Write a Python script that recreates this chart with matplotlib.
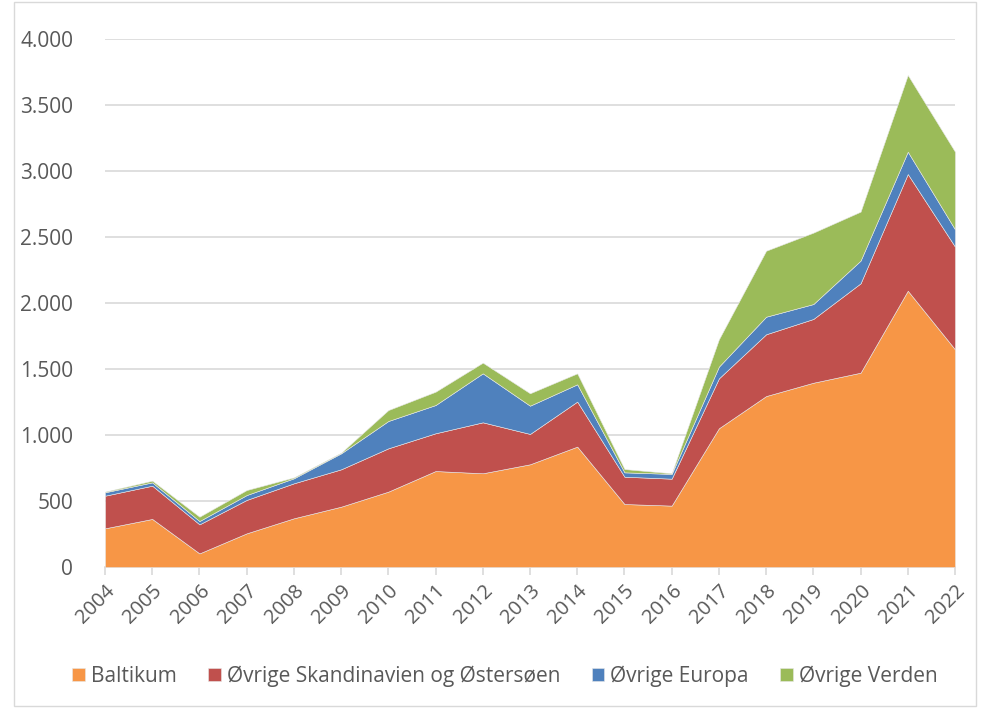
import numpy as np
import matplotlib
matplotlib.use("Agg")
import matplotlib.pyplot as plt
from matplotlib.patches import Rectangle
from matplotlib.ticker import FuncFormatter, MultipleLocator

years = list(range(2004, 2023))

baltikum = [293, 364, 103, 255, 369, 457, 571, 727, 710, 778, 912, 477, 465,
            1051, 1295, 1396, 1472, 2093, 1649]
skandinavien = [247, 252, 220, 253, 265, 283, 328, 286, 386, 230, 341, 207, 204,
                378, 468, 483, 677, 884, 778]
europa = [26, 25, 25, 37, 38, 121, 207, 214, 371, 214, 131, 33, 36,
          89, 133, 113, 172, 169, 131]
verden = [5, 13, 33, 38, 7, 5, 83, 101, 81, 94, 83, 25, 5,
          207, 500, 541, 371, 581, 588]

labels = ["Baltikum", "Øvrige Skandinavien og Østersøen", "Øvrige Europa", "Øvrige Verden"]
colors = ["#F79646", "#C0504D", "#4F81BD", "#9BBB59"]

plt.rcParams['font.family'] = ['Open Sans', 'DejaVu Sans']
txt = "#595959"
grid = "#d9d9d9"

fig = plt.figure(figsize=(9.9, 7.08), dpi=100)
ax = fig.add_axes([105/990, 1 - 567/708, 850/990, 528/708])

ax.stackplot(years, baltikum, skandinavien, europa, verden,
             colors=colors, labels=labels, linewidth=0.4, edgecolor="#e8e8e8")

ax.set_xlim(2004, 2022)
ax.set_ylim(0, 4000)
ax.yaxis.set_major_locator(MultipleLocator(500))
ax.yaxis.set_major_formatter(FuncFormatter(lambda v, p: f"{int(v):,}".replace(",", ".")))
ax.set_xticks(years)
ax.set_xticklabels([str(y) for y in years], rotation=45, ha="right", va="top",
                   rotation_mode="anchor")

ax.grid(axis="y", color=grid, linewidth=1.2)
ax.set_axisbelow(True)
for s in ["top", "right", "left"]:
    ax.spines[s].set_visible(False)
ax.spines["bottom"].set_color(grid)
ax.spines["bottom"].set_linewidth(1.2)
ax.spines["bottom"].set_zorder(0.5)
ax.tick_params(axis="y", length=0, labelsize=15, labelcolor=txt, pad=23)
ax.tick_params(axis="x", length=6, color=grid, width=1.2, labelsize=14.5,
               labelcolor=txt, pad=4)

handles, lbls = ax.get_legend_handles_labels()
fig.legend(handles, lbls, loc="center", bbox_to_anchor=(0.51, 1 - 676/708), ncol=4,
           frameon=False, fontsize=15, labelcolor=txt, handlelength=0.6,
           handleheight=0.6, handletextpad=0.3, columnspacing=1.5)

fig.patches.append(Rectangle((14/990, 0.003), 1 - 28/990, 0.994, transform=fig.transFigure,
                             fill=False, edgecolor=grid, linewidth=1))

fig.savefig("out.png", dpi=100)
